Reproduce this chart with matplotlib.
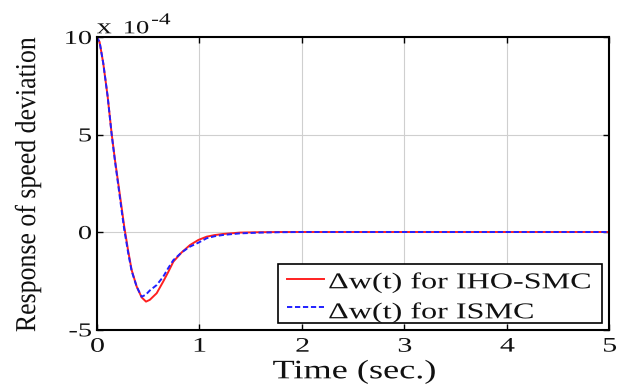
import matplotlib
matplotlib.use("Agg")
import matplotlib.pyplot as plt
from matplotlib.textpath import TextPath
from matplotlib.patches import PathPatch, Rectangle
from matplotlib.lines import Line2D
from matplotlib.font_manager import FontProperties
from matplotlib.transforms import Affine2D, IdentityTransform

# speed deviation responses (units of 1e-4)
t_iho = [0, 0.03, 0.066, 0.109, 0.148, 0.18, 0.207, 0.24, 0.27, 0.31, 0.343,
         0.392, 0.44, 0.483, 0.52, 0.587, 0.65, 0.70, 0.75, 0.83, 0.912, 0.993,
         1.075, 1.15, 1.237, 1.4, 1.6, 1.8, 2.0, 5.0]
dw_iho = [10, 9.75, 8.65, 6.94, 5.03, 3.7, 2.7, 1.45, 0.3, -1.0, -1.95,
          -2.8, -3.35, -3.57, -3.48, -3.14, -2.55, -2.05, -1.52, -1.05, -0.67, -0.41,
          -0.24, -0.16, -0.1, -0.03, -0.01, 0, 0, 0]

t_ismc = [0, 0.03, 0.066, 0.109, 0.148, 0.18, 0.207, 0.24, 0.27, 0.31, 0.343,
          0.392, 0.44, 0.48, 0.52, 0.587, 0.65, 0.70, 0.75, 0.83, 0.912, 0.993,
          1.075, 1.15, 1.237, 1.4, 1.6, 1.8, 2.0, 5.0]
dw_ismc = [10, 9.75, 8.65, 6.94, 5.0, 3.65, 2.6, 1.3, 0.15, -1.1, -2.0,
           -2.8, -3.32, -3.22, -3.0, -2.72, -2.3, -1.85, -1.44, -1.05, -0.75, -0.55,
           -0.32, -0.22, -0.15, -0.07, -0.03, -0.01, 0, 0]

xticks = [0, 1, 2, 3, 4, 5]
yticks = [-5, 0, 5, 10]
labels = ["Δw(t) for IHO-SMC", "Δw(t) for ISMC"]
colors = ["#ff2020", "#2020ff"]

W, H = 624, 385
SERIF = FontProperties(family="Liberation Serif")

fig = plt.figure(figsize=(W / 100, H / 100), dpi=100)
ax = fig.add_axes([96.5 / W, 1 - 329.5 / H, 512.5 / W, 292.5 / H])


def stext(x, y, s, size, sx=1.0, ha="center", va="center", rot=0):
    # text drawn as a path so it can be widened; x, y in pixels from top-left
    tp = TextPath((0, 0), s, size=size, prop=SERIF)
    bb = tp.get_extents()
    ox = {"left": bb.x0, "center": (bb.x0 + bb.x1) / 2, "right": bb.x1}[ha]
    oy = {"bottom": bb.y0, "center": (bb.y0 + bb.y1) / 2, "top": bb.y1,
          "baseline": 0}[va]
    tr = (Affine2D().translate(-ox, -oy).scale(fig.dpi / 72).rotate_deg(rot)
          .scale(sx, 1).translate(x, H - y))
    fig.add_artist(PathPatch(tp, transform=tr, fc="#111111", ec="none", lw=0))


ax.plot(t_iho, dw_iho, color=colors[0], lw=1.4)
ax.plot(t_ismc, dw_ismc, color=colors[1], lw=1.4, dashes=(2.7, 1.4))

ax.set_xlim(0, 5)
ax.set_ylim(-5, 10)
ax.set_xticks(xticks)
ax.set_yticks(yticks)
ax.grid(True, color="#cfcfcf", lw=0.8)
ax.tick_params(direction="in", top=True, right=True, length=4, width=1,
               labelbottom=False, labelleft=False)
for s in ax.spines.values():
    s.set_linewidth(1.5)

# tick labels
for v in xticks:
    px = ax.transData.transform((v, -5))[0]
    stext(px + 1, 338, str(v), 14.9, sx=1.45, va="top")
for v in yticks:
    py = H - ax.transData.transform((0, v))[1]
    stext(91, py + 0.5, str(v), 14.2, sx=1.44, ha="right")

# exponent marker
stext(97, 33.3, "x", 15.6, sx=1.38, ha="left", va="baseline")
stext(125, 33.3, "10", 13.4, sx=1.43, ha="left", va="baseline")
stext(152, 13.3, "-4", 12.0, sx=1.4, ha="left", va="top")

# axis labels
stext(354, 378.3, "Time (sec.)", 19.2, sx=1.36, va="baseline")
stext(28, 184.5, "Response of speed deviation", 18.6, sx=1.12, rot=90)

# legend
box = Rectangle((278, H - 323.3), 323.7, 59, transform=IdentityTransform(),
                fill=True, fc="white", ec="black", lw=1.2)
fig.add_artist(box)
for i, (lab, c) in enumerate(zip(labels, colors)):
    yl = [279, 306.7][i]
    yb = [288.3, 318.3][i]
    ln = Line2D([286.7, 324], [H - yl, H - yl], color=c, lw=1.4,
                transform=IdentityTransform())
    if i == 1:
        ln.set_dashes((2.7, 1.4))
    fig.add_artist(ln)
    stext(329.3, yb, lab, 16.3, sx=1.42, ha="left", va="baseline")

fig.savefig("out.png", dpi=100)
